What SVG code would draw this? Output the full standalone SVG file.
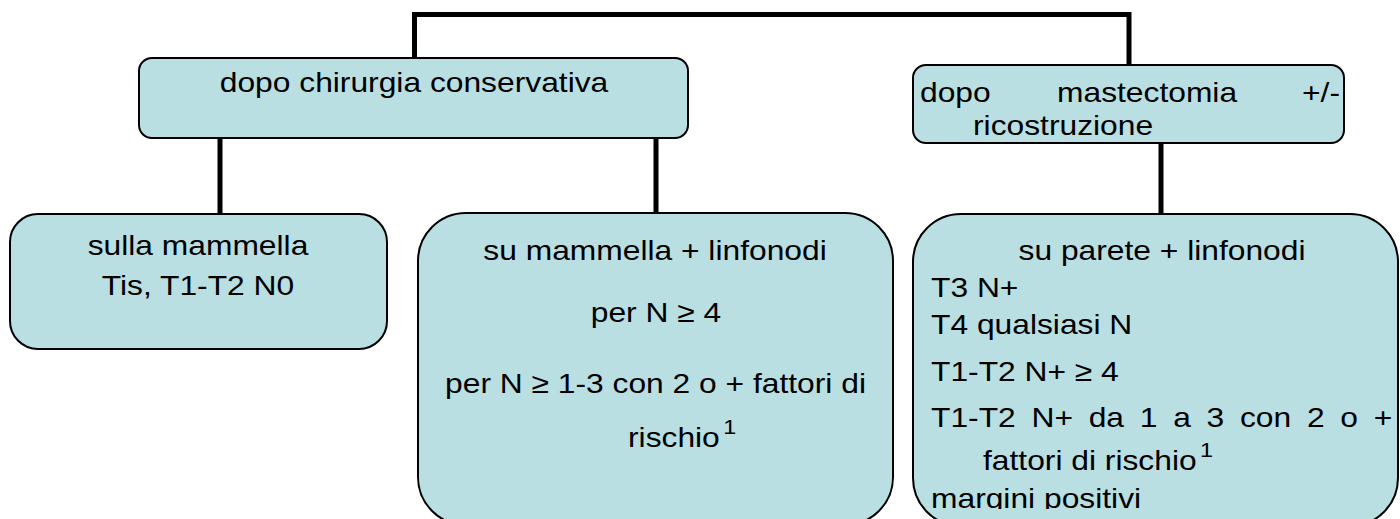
<svg xmlns="http://www.w3.org/2000/svg" width="1400" height="519" viewBox="0 0 1400 519">
  <style>
    .box { fill: #b9dfe3; stroke: #000; stroke-width: 2; }
    .wire { fill: none; stroke: #000; stroke-width: 5; }
    .t { font-family: "Liberation Sans", Arial, sans-serif; font-size: 28.5px; fill: #000; }
    .c { text-anchor: middle; }
    .e { text-anchor: end; }
    .sup { font-size: 21px; }
  </style>
  <defs>
    <clipPath id="clipBottom">
      <rect x="900" y="200" width="500" height="309"/>
    </clipPath>
  </defs>

  <!-- connectors -->
  <g id="connectors">
    <path class="wire" d="M414.5,58 V14.5 H1129 V65"/>
    <path class="wire" d="M220,138 V214"/>
    <path class="wire" d="M656,138 V213"/>
    <path class="wire" d="M1161,143 V214"/>
  </g>

  <!-- after conservative surgery -->
  <g id="node-conservativa">
    <rect class="box" x="139" y="58" width="549" height="80" rx="13"/>
    <text class="t c" transform="translate(414 92) scale(1.115 1)">dopo chirurgia conservativa</text>
  </g>

  <!-- after mastectomy -->
  <g id="node-mastectomia">
    <rect class="box" x="913" y="65" width="431" height="78" rx="13"/>
    <text class="t" transform="translate(920 102) scale(1.115 1)">dopo</text>
    <text class="t" transform="translate(1057 102) scale(1.115 1)">mastectomia</text>
    <text class="t e" transform="translate(1340 102) scale(1.115 1)">+/-</text>
    <text class="t" transform="translate(973 135) scale(1.115 1)">ricostruzione</text>
  </g>

  <!-- breast only -->
  <g id="node-mammella">
    <rect class="box" x="10" y="214" width="377" height="135" rx="28"/>
    <text class="t c" transform="translate(198 255) scale(1.115 1)">sulla mammella</text>
    <text class="t c" transform="translate(198 295) scale(1.115 1)">Tis, T1-T2 N0</text>
  </g>

  <!-- breast + lymph nodes -->
  <g id="node-mammella-linfonodi">
    <rect class="box" x="418" y="213" width="475" height="312" rx="48"/>
    <text class="t c" transform="translate(655 260) scale(1.115 1)">su mammella + linfonodi</text>
    <text class="t c" transform="translate(656 322) scale(1.115 1)">per N ≥ 4</text>
    <text class="t c" transform="translate(655.5 393) scale(1.115 1)">per N ≥ 1-3 con 2 o + fattori di</text>
    <text class="t" transform="translate(628 447) scale(1.115 1)">rischio<tspan class="sup" dx="3" dy="-13">1</tspan></text>
  </g>

  <!-- chest wall + lymph nodes -->
  <g id="node-parete-linfonodi">
    <rect class="box" x="913" y="214" width="485" height="312" rx="48"/>
    <text class="t c" transform="translate(1162 260) scale(1.115 1)">su parete + linfonodi</text>
    <text class="t" transform="translate(931 297) scale(1.115 1)">T3 N+</text>
    <text class="t" transform="translate(931 334) scale(1.115 1)">T4 qualsiasi N</text>
    <text class="t" transform="translate(931 381) scale(1.115 1)">T1-T2 N+ ≥ 4</text>
    <text class="t" transform="translate(931 427) scale(1.115 1)" word-spacing="6.2">T1-T2 N+ da 1 a 3 con 2 o +</text>
    <text class="t" transform="translate(983 470) scale(1.115 1)">fattori di rischio<tspan class="sup" dx="3" dy="-13">1</tspan></text>
    <g clip-path="url(#clipBottom)">
      <text class="t" transform="translate(931 508) scale(1.115 1)">margini positivi</text>
    </g>
  </g>
</svg>
